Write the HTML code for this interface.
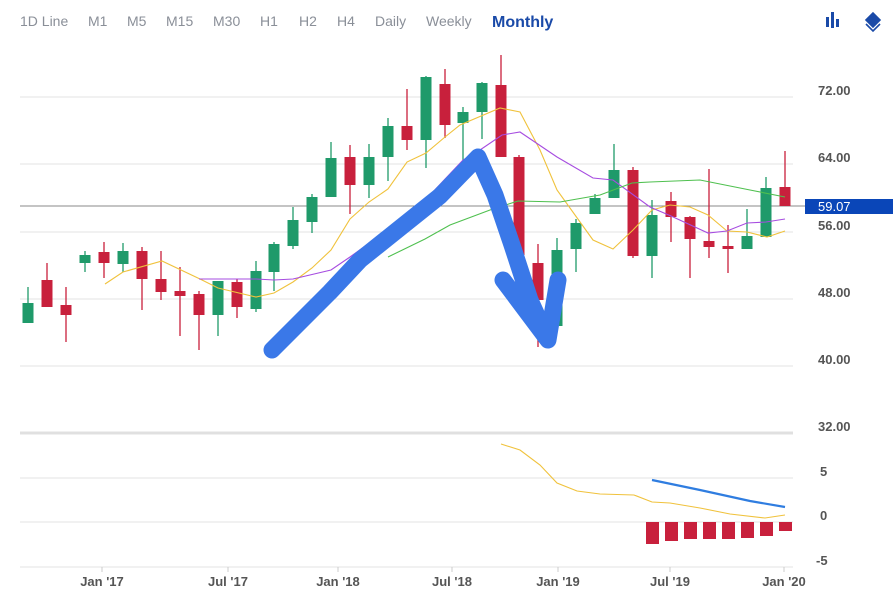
<!DOCTYPE html>
<html><head><meta charset="utf-8"><style>
body{margin:0;background:#fff;width:895px;height:595px;overflow:hidden;font-family:"Liberation Sans",sans-serif}
</style></head><body>
<svg width="895" height="595" viewBox="0 0 895 595" xmlns="http://www.w3.org/2000/svg" font-family="Liberation Sans, sans-serif">
<rect width="895" height="595" fill="#fff"/>
<g font-size="14" fill="#8a8f98">
<text x="20" y="26">1D Line</text><text x="88" y="26">M1</text><text x="127" y="26">M5</text><text x="166" y="26">M15</text><text x="213" y="26">M30</text><text x="260" y="26">H1</text><text x="299" y="26">H2</text><text x="337" y="26">H4</text><text x="375" y="26">Daily</text><text x="426" y="26">Weekly</text>
</g>
<text x="492" y="27" font-size="16" font-weight="bold" fill="#1a4aa8">Monthly</text>
<g fill="#1a4aa8"><rect x="826" y="17" width="3" height="10"/><rect x="831" y="12" width="3" height="16"/><rect x="836" y="19" width="3" height="8"/></g>
<g fill="none" stroke="#1a4aa8" stroke-width="1.6"><path d="M866 20 L873 13 L880 20 L873 27 Z" fill="#1a4aa8"/><path d="M866 24 L873 31 L880 24"/></g>
<g stroke="#e3e3e3" stroke-width="1">
<line x1="20" y1="97" x2="793" y2="97"/><line x1="20" y1="164" x2="793" y2="164"/><line x1="20" y1="232" x2="793" y2="232"/><line x1="20" y1="299" x2="793" y2="299"/><line x1="20" y1="366" x2="793" y2="366"/>
<line x1="20" y1="478" x2="793" y2="478"/><line x1="20" y1="522" x2="793" y2="522"/><line x1="20" y1="567" x2="793" y2="567"/>
</g>
<line x1="20" y1="433" x2="793" y2="433" stroke="#e0e0e0" stroke-width="3"/>
<line x1="20" y1="206" x2="805" y2="206" stroke="#888" stroke-width="1"/>
<g id="c"></g>
<g stroke-width="1.1" fill="none">
<polyline stroke="#f0c23c" points="105,284 123,272 162,261 200,279 218,288 256,297 274,293 293,282 312,268 331,250 350,219 369,202 388,189 407,162 426,153 445,137 460,125 500,108 520,112 540,150 557,190 593,240 613,249 633,230 652,210 670,205 690,207 708,215 727,231 747,232 767,237 785,231"/>
<polyline stroke="#a64ce0" points="199,279 256,279 274,280 293,279 331,270 350,257 390,228 430,195 463,160 480,150 502,135 520,132 557,157 593,178 613,180 650,207 671,216 708,233 727,231 747,223 766,222 785,219"/>
<polyline stroke="#4fc04f" points="388,257 425,239 450,225 490,210 518,201 560,202 600,195 632,183 650,182 700,180 750,190 785,197"/>
<polyline stroke="#f0c23c" points="501,444 520,450 540,465 557,483 577,491 600,494 634,495 652,502 670,503 700,508 730,514 765,518 785,515"/>
<polyline stroke="#2f7de0" stroke-width="2.2" points="652,480 700,490 750,501 785,507"/>
</g>
<g fill="#c8203c">
<rect x="646" y="522" width="13" height="22"/><rect x="665" y="522" width="13" height="19"/><rect x="684" y="522" width="13" height="17"/><rect x="703" y="522" width="13" height="17"/><rect x="722" y="522" width="13" height="17"/><rect x="741" y="522" width="13" height="16"/><rect x="760" y="522" width="13" height="14"/><rect x="779" y="522" width="13" height="9"/>
</g>
<path d="M272 350 L300 322 L330 292 L360 260 L400 228 L440 196 L478 157 L495 195 L512 245 L530 300 L548 340 M503 280 L548 340 L558 280" fill="none" stroke="#3a78e8" stroke-width="17" stroke-linecap="round" stroke-linejoin="round"/>
<rect x="805" y="199" width="88" height="15" fill="#0a46b8"/>
<text x="818" y="211" font-size="13" fill="#fff">59.07</text>
<g font-size="13" font-weight="bold" fill="#555">
<text x="818" y="95">72.00</text><text x="818" y="162">64.00</text><text x="818" y="230">56.00</text><text x="818" y="297">48.00</text><text x="818" y="364">40.00</text><text x="818" y="431">32.00</text>
<text x="820" y="476">5</text><text x="820" y="520">0</text><text x="816" y="565">-5</text>
</g>
<g font-size="13" font-weight="bold" fill="#555" text-anchor="middle">
<text x="102" y="586">Jan '17</text><text x="228" y="586">Jul '17</text><text x="338" y="586">Jan '18</text><text x="452" y="586">Jul '18</text><text x="558" y="586">Jan '19</text><text x="670" y="586">Jul '19</text><text x="784" y="586">Jan '20</text>
</g>
<g stroke="#ccc"><line x1="102" y1="567" x2="102" y2="572"/><line x1="228" y1="567" x2="228" y2="572"/><line x1="338" y1="567" x2="338" y2="572"/><line x1="452" y1="567" x2="452" y2="572"/><line x1="558" y1="567" x2="558" y2="572"/><line x1="670" y1="567" x2="670" y2="572"/><line x1="784" y1="567" x2="784" y2="572"/></g>
</svg>
<script>
var d=[[28,'g',303,323,287,323],[47,'r',280,307,263,307],[66,'r',305,315,287,342],[85,'g',255,263,251,272],[104,'r',252,263,242,278],[123,'g',251,264,243,272],[142,'r',251,279,247,310],[161,'r',279,292,251,300],[180,'r',291,296,267,336],[199,'r',294,315,291,350],[218,'g',281,315,281,336],[237,'r',282,307,279,318],[256,'g',271,309,261,312],[274,'g',244,272,242,291],[293,'g',220,246,207,249],[312,'g',197,222,194,233],[331,'g',158,197,142,197],[350,'r',157,185,145,214],[369,'g',157,185,144,198],[388,'g',126,157,118,181],[407,'r',126,140,89,150],[426,'g',77,140,76,168],[445,'r',84,125,69,138],[463,'g',112,123,107,160],[482,'g',83,112,82,139],[501,'r',85,157,55,157],[519,'r',157,255,155,290],[538,'r',263,300,244,347],[557,'g',250,326,238,326],[576,'g',223,249,219,272],[595,'g',198,214,194,214],[614,'g',170,198,144,198],[633,'r',170,256,167,258],[652,'g',215,256,200,278],[671,'r',201,217,192,242],[690,'r',217,239,216,278],[709,'r',241,247,169,258],[728,'r',246,249,225,273],[747,'g',236,249,209,249],[766,'g',188,237,177,237],[785,'r',187,206,151,206]];
var g=document.getElementById('c'),s='';
d.forEach(function(c){var col=c[1]=='g'?'#1f9a6a':'#c8203c';
s+='<line x1="'+c[0]+'" y1="'+c[4]+'" x2="'+c[0]+'" y2="'+c[5]+'" stroke="'+col+'" stroke-width="1.3"/>';
s+='<rect x="'+(c[0]-5.5)+'" y="'+c[2]+'" width="11" height="'+Math.max(2,c[3]-c[2])+'" fill="'+col+'"/>';});
g.innerHTML=s;
</script>
</body></html>
